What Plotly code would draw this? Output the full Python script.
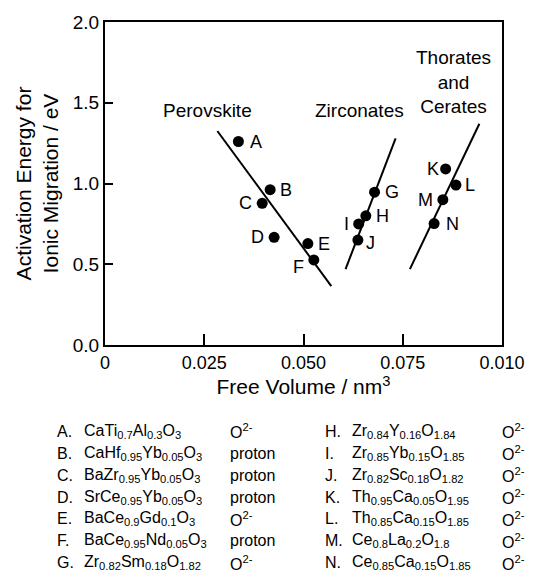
import plotly.graph_objects as go

# ---------------- data ----------------
labels = ["A", "B", "C", "D", "E", "F", "G", "H", "I", "J", "K", "L", "M", "N"]
free_volume = [0.0336, 0.0416, 0.0396, 0.0426, 0.0511, 0.0526, 0.0679,
               0.0657, 0.0639, 0.0637, 0.0858, 0.0884, 0.0851, 0.0829]
activation_energy = [1.26, 0.962, 0.877, 0.667, 0.628, 0.527, 0.946,
                     0.80, 0.75, 0.65, 1.09, 0.99, 0.90, 0.752]

perov_fit_x = [0.0283, 0.0570]
perov_fit_y = [1.325, 0.365]
zircon_fit_x = [0.0606, 0.0732]
zircon_fit_y = [0.47, 1.28]
thor_fit_x = [0.0768, 0.0943]
thor_fit_y = [0.47, 1.37]

group_names = ["Perovskite", "Zirconates", "Thorates<br>and<br>Cerates"]
group_x = [0.0258, 0.0642, 0.0877]
group_y = [1.453, 1.453, 1.63]

x_tickvals = [0, 0.025, 0.05, 0.075, 0.1]
x_ticktext = ["0", "0.025", "0.050", "0.075", "0.010"]
y_tickvals = [0, 0.5, 1.0, 1.5, 2.0]

formulas = [
    "CaTi<sub>0.7</sub>Al<sub>0.3</sub>O<sub>3</sub>",
    "CaHf<sub>0.95</sub>Yb<sub>0.05</sub>O<sub>3</sub>",
    "BaZr<sub>0.95</sub>Yb<sub>0.05</sub>O<sub>3</sub>",
    "SrCe<sub>0.95</sub>Yb<sub>0.05</sub>O<sub>3</sub>",
    "BaCe<sub>0.9</sub>Gd<sub>0.1</sub>O<sub>3</sub>",
    "BaCe<sub>0.95</sub>Nd<sub>0.05</sub>O<sub>3</sub>",
    "Zr<sub>0.82</sub>Sm<sub>0.18</sub>O<sub>1.82</sub>",
    "Zr<sub>0.84</sub>Y<sub>0.16</sub>O<sub>1.84</sub>",
    "Zr<sub>0.85</sub>Yb<sub>0.15</sub>O<sub>1.85</sub>",
    "Zr<sub>0.82</sub>Sc<sub>0.18</sub>O<sub>1.82</sub>",
    "Th<sub>0.95</sub>Ca<sub>0.05</sub>O<sub>1.95</sub>",
    "Th<sub>0.85</sub>Ca<sub>0.15</sub>O<sub>1.85</sub>",
    "Ce<sub>0.8</sub>La<sub>0.2</sub>O<sub>1.8</sub>",
    "Ce<sub>0.85</sub>Ca<sub>0.15</sub>O<sub>1.85</sub>",
]
carriers = ["O<sup>2-</sup>", "proton", "proton", "proton", "O<sup>2-</sup>", "proton",
            "O<sup>2-</sup>", "O<sup>2-</sup>", "O<sup>2-</sup>", "O<sup>2-</sup>",
            "O<sup>2-</sup>", "O<sup>2-</sup>", "O<sup>2-</sup>", "O<sup>2-</sup>"]

# ---------------- style / layout ----------------
FONT = "Liberation Sans, Arial, Helvetica, sans-serif"
W, H = 538, 575
ML, MR, MT, MB = 105, 36, 16, 230
PW, PH = W - ML - MR, H - MT - MB

# label offsets (px) for point letters
label_shift = {
    "A": (18, 0), "B": (16, 0), "C": (-17, 0), "D": (-17, 0), "E": (16, 0),
    "F": (-15, -7), "G": (17, 0), "H": (17, 0), "I": (-12, 0), "J": (13, -3),
    "K": (-13, 0), "L": (14, 0), "M": (-17, 0), "N": (18, 0),
}

fig = go.Figure()
line_style = dict(color="black", width=2)
for fx, fy in [(perov_fit_x, perov_fit_y), (zircon_fit_x, zircon_fit_y), (thor_fit_x, thor_fit_y)]:
    fig.add_trace(go.Scatter(x=fx, y=fy, mode="lines", line=line_style,
                             showlegend=False, hoverinfo="skip"))

fig.add_trace(go.Scatter(x=free_volume, y=activation_energy, mode="markers",
                         marker=dict(color="black", size=11),
                         showlegend=False))

annotations = []
for lab, xv, yv in zip(labels, free_volume, activation_energy):
    dx, dy = label_shift[lab]
    annotations.append(dict(x=xv, y=yv, xref="x", yref="y", text=lab,
                            showarrow=False, xshift=dx, yshift=dy,
                            font=dict(family=FONT, size=18, color="black")))

for name, gx, gy in zip(group_names, group_x, group_y):
    annotations.append(dict(x=gx, y=gy, xref="x", yref="y", text=name,
                            showarrow=False, align="center",
                            font=dict(family=FONT, size=19, color="black")))

# legend table below the chart (pixel positions converted to paper)
def px_x(p):
    return (p - ML) / PW

def px_y(p):
    return (H - MB - p) / PH

row0, row_step = 433, 22.3
col_sets = [(55, 82, 228), (323, 350, 500)]
for i, (lab, form, car) in enumerate(zip(labels, formulas, carriers)):
    col = 0 if i < 7 else 1
    r = i % 7
    yy = px_y(row0 + r * row_step)
    lx, fx, cx = col_sets[col]
    tf = dict(family=FONT, size=16, color="black")
    annotations.append(dict(x=px_x(lx), y=yy, xref="paper", yref="paper", text=lab + ".",
                            showarrow=False, xanchor="left", yanchor="middle", font=tf))
    annotations.append(dict(x=px_x(fx), y=yy, xref="paper", yref="paper", text=form,
                            showarrow=False, xanchor="left", yanchor="middle", font=tf))
    annotations.append(dict(x=px_x(cx), y=yy, xref="paper", yref="paper", text=car,
                            showarrow=False, xanchor="left", yanchor="middle", font=tf))

fig.update_layout(
    width=W, height=H,
    margin=dict(l=ML, r=MR, t=MT, b=MB, pad=0),
    paper_bgcolor="white", plot_bgcolor="white",
    font=dict(family=FONT, color="black"),
    annotations=annotations,
    showlegend=False,
)
fig.update_xaxes(range=[0, 0.1], tickvals=x_tickvals, ticktext=x_ticktext,
                 ticks="inside", ticklen=11, tickwidth=2, tickcolor="black",
                 showline=True, linecolor="black", linewidth=2, mirror=True,
                 showgrid=False, zeroline=False,
                 tickfont=dict(family=FONT, size=18),
                 title=dict(text="Free Volume / nm<sup>3</sup>",
                            font=dict(family=FONT, size=21), standoff=6))
fig.update_yaxes(range=[0, 2.0], tickvals=y_tickvals, tickformat=".1f",
                 ticks="inside", ticklen=8, tickwidth=2, tickcolor="black",
                 showline=True, linecolor="black", linewidth=2, mirror=True,
                 showgrid=False, zeroline=False,
                 tickfont=dict(family=FONT, size=19),
                 title=dict(text="Activation Energy for<br>Ionic Migration / eV",
                            font=dict(family=FONT, size=21), standoff=8))

fig.write_html("out.html")
